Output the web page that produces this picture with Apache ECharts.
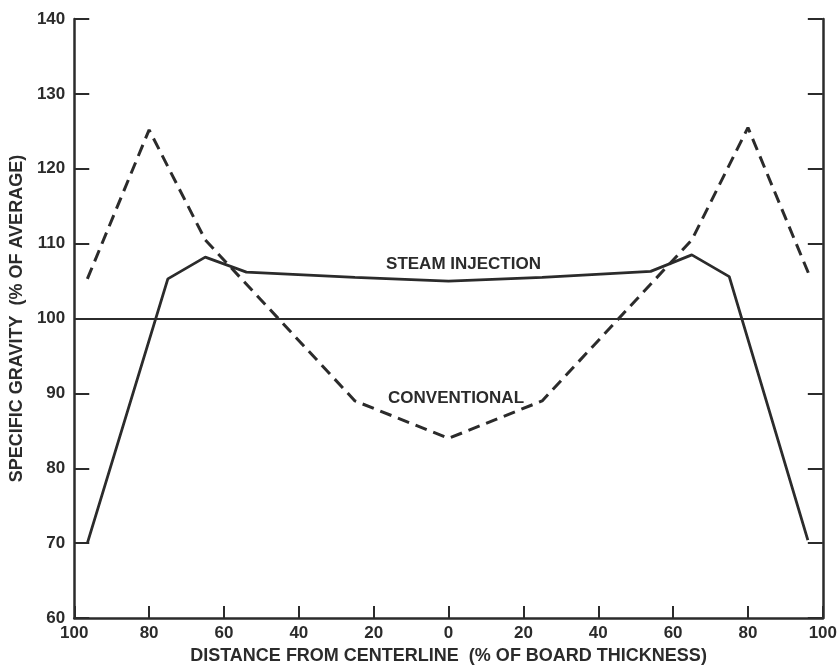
<!DOCTYPE html>
<html>
<head>
<meta charset="utf-8">
<script src="https://cdn.jsdelivr.net/npm/echarts@6/dist/echarts.min.js"></script>
<style>
html,body{margin:0;padding:0;background:#fff;}
#chart{width:840px;height:670px;}
</style>
</head>
<body>
<div id="chart"></div>
<script>
// distance from centerline (%), negative = left half
const steamX = [-96.5, -75, -65, -54, -25, 0, 25, 54, 65, 75, 96];
const steamY = [70, 105.3, 108.2, 106.2, 105.5, 105, 105.5, 106.3, 108.5, 105.6, 70.4];
const convX = [-96.5, -80, -65, -25, 0, 25, 65, 80, 96.8];
const convY = [105.3, 125.2, 110.5, 89, 84, 89, 110.5, 125.5, 105.3];
const yTicks = [60, 70, 80, 90, 100, 110, 120, 130, 140];
const xTicks = [-100, -80, -60, -40, -20, 0, 20, 40, 60, 80, 100];
const averageLevel = 100;
const labelSteam = {text: 'STEAM INJECTION', x: 4, y: 107.3};
const labelConv = {text: 'CONVENTIONAL', x: 2, y: 89.4};

const ink = '#2b2b2b';
const font = 'Liberation Sans';

const chart = echarts.init(document.getElementById('chart'), null, {renderer: 'canvas'});
chart.setOption({
  backgroundColor: '#ffffff',
  animation: false,
  grid: {left: 73, right: 17, top: 19, bottom: 49},
  xAxis: {
    type: 'value', min: xTicks[0], max: xTicks[xTicks.length - 1], interval: 20,
    axisLine: {onZero: false, lineStyle: {color: ink, width: 2.5}},
    axisTick: {inside: true, length: 12, lineStyle: {color: ink, width: 2}},
    splitLine: {show: false},
    axisLabel: {color: ink, fontFamily: font, fontWeight: 'bold', fontSize: 17, margin: 7,
      formatter: v => String(Math.abs(v))},
    name: 'DISTANCE FROM CENTERLINE  (% OF BOARD THICKNESS)',
    nameLocation: 'middle', nameGap: 26,
    nameTextStyle: {color: ink, fontFamily: font, fontWeight: 'bold', fontSize: 18}
  },
  yAxis: [{
    type: 'value', min: yTicks[0], max: yTicks[yTicks.length - 1], interval: 10,
    position: 'left',
    axisLine: {show: true, onZero: false, lineStyle: {color: ink, width: 2.5}},
    axisTick: {show: true, inside: true, length: 15, lineStyle: {color: ink, width: 2}},
    splitLine: {show: false},
    axisLabel: {color: ink, fontFamily: font, fontWeight: 'bold', fontSize: 17, margin: 9},
    name: 'SPECIFIC GRAVITY  (% OF AVERAGE)',
    nameLocation: 'middle', nameGap: 44,
    nameTextStyle: {color: ink, fontFamily: font, fontWeight: 'bold', fontSize: 18}
  }, {
    type: 'value', min: yTicks[0], max: yTicks[yTicks.length - 1], interval: 10,
    position: 'right',
    axisLine: {show: true, onZero: false, lineStyle: {color: ink, width: 2.5}},
    axisTick: {show: true, inside: true, length: 15, lineStyle: {color: ink, width: 2}},
    splitLine: {show: false},
    axisLabel: {show: false}
  }],
  series: [{
    name: 'Steam injection', type: 'line', symbol: 'none',
    data: steamX.map((x, i) => [x, steamY[i]]),
    lineStyle: {color: ink, width: 2.8},
    markLine: {
      silent: true, symbol: 'none', label: {show: false},
      lineStyle: {color: ink, width: 2, type: 'solid'},
      data: [{yAxis: averageLevel}]
    },
    markPoint: {
      symbol: 'circle', symbolSize: 0,
      label: {show: true, position: 'inside', color: ink, fontFamily: font, fontWeight: 'bold', fontSize: 17,
        formatter: p => p.name},
      data: [
        {name: labelSteam.text, coord: [labelSteam.x, labelSteam.y]},
        {name: labelConv.text, coord: [labelConv.x, labelConv.y]}
      ]
    }
  }, {
    name: 'Conventional', type: 'line', symbol: 'none',
    data: convX.map((x, i) => [x, convY[i]]),
    lineStyle: {color: ink, width: 3, type: [12, 7]}
  }]
});
</script>
</body>
</html>
